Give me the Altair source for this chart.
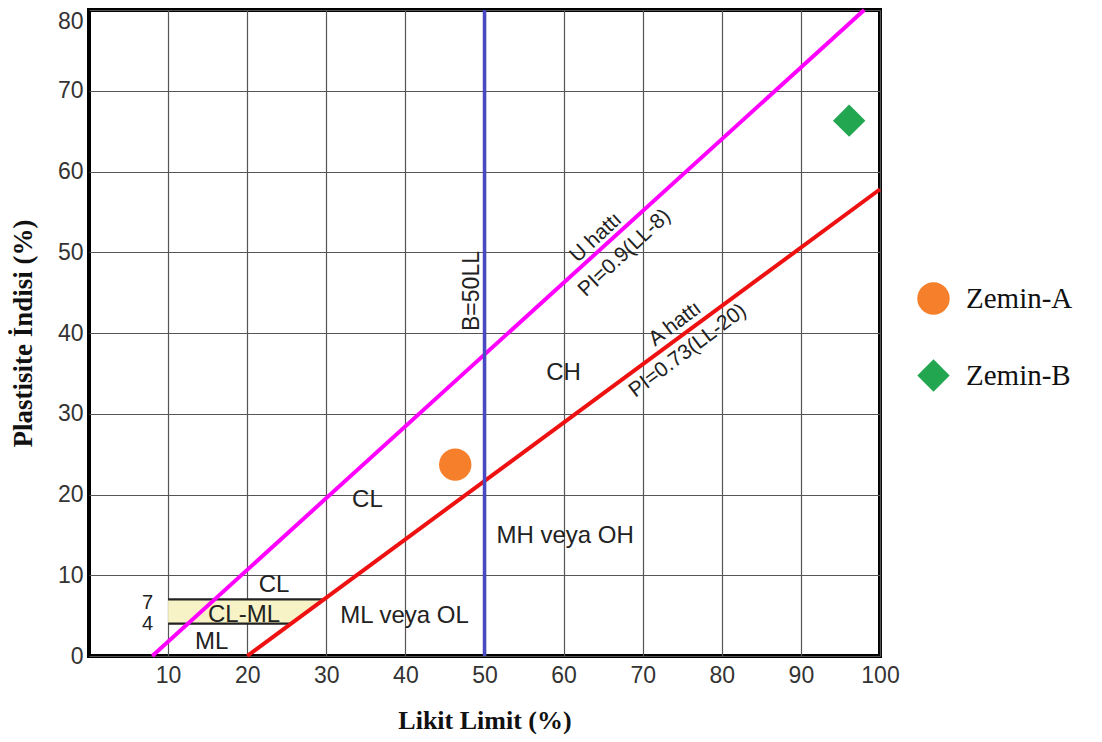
import altair as alt
import pandas as pd

# ---- data ----
u_line_ll = [8, 98]
u_line_pi = [0, 80]
a_line_ll = [20, 100]
a_line_pi = [0, 57.8]
b_line_ll = [50, 50]
b_line_pi = [0, 80]

zone_pi = [4, 7]
zone_ll_from = [10, 10]
zone_ll_to = [25.6, 29.8]

soil_names = ["Zemin-A", "Zemin-B"]
soil_ll = [46.3, 96.1]
soil_pi = [23.7, 66.3]
soil_colors = ["#F57F2A", "#22A650"]
soil_shapes = ["circle", "diamond"]

label_text = ["CL", "CL", "CL-ML", "ML", "ML veya OL", "MH veya OH", "CH"]
label_ll = [35.2, 23.4, 19.6, 15.5, 39.9, 60.2, 60.0]
label_pi = [19.3, 8.8, 5.1, 1.7, 4.9, 14.9, 35.0]

side_text = ["7", "4"]
side_ll = [7.4, 7.4]
side_pi = [6.6, 4.0]

u_text = ["U hattı", "PI=0.9(LL-8)"]
u_text_ll = [64.1, 67.7]
u_text_pi = [51.8, 49.9]

a_text = ["A hattı", "PI=0.73(LL-20)"]
a_text_ll = [74.1, 75.7]
a_text_pi = [41.1, 37.8]

b_text = ["B=50LL"]
b_text_ll = [48.4]
b_text_pi = [45.2]

x_ticks = [10, 20, 30, 40, 50, 60, 70, 80, 90, 100]
y_ticks = [0, 10, 20, 30, 40, 50, 60, 70, 80]

SANS = "Liberation Sans"
SERIF = "Liberation Serif"

xenc = alt.X(
    "ll:Q",
    scale=alt.Scale(domain=[0, 100], nice=False, zero=False),
    axis=alt.Axis(
        values=x_ticks, title="Likit Limit (%)", labelFont=SANS, labelFontSize=23,
        labelColor="#333", labelPadding=8, labelFlush=False,
        titleFont=SERIF, titleFontSize=26, titleFontWeight="bold", titleColor="#111",
        titleY=72, titleBaseline="alphabetic",
    ),
)
yenc = alt.Y(
    "pi:Q",
    scale=alt.Scale(domain=[0, 80], nice=False, zero=False),
    axis=alt.Axis(
        values=y_ticks, title="Plastisite İndisi (%)", labelFont=SANS, labelFontSize=23,
        labelColor="#333", labelPadding=6, labelFlush=False,
        labelBaseline={"condition": {"test": "datum.value == 80", "value": "top"}, "value": "middle"},
        titleFont=SERIF, titleFontSize=27, titleFontWeight="bold", titleColor="#111",
        titleX=-66, titleBaseline="middle",
    ),
)

def df(ll, pi, **extra):
    d = {"ll": ll, "pi": pi}
    d.update(extra)
    return pd.DataFrame(d)

zone_df = pd.DataFrame({"pi": zone_pi, "ll": zone_ll_from, "ll2": zone_ll_to})

zone = alt.Chart(zone_df).mark_area(
    orient="horizontal", color="#F8F3C6"
).encode(y=yenc, x=xenc, x2="ll2:Q")

zone_lines = alt.Chart(zone_df).mark_rule(
    color="#222", strokeWidth=2.2
).encode(y=yenc, x=xenc, x2="ll2:Q")

u_line = alt.Chart(df(u_line_ll, u_line_pi)).mark_line(color="#FF00FF", strokeWidth=4).encode(x=xenc, y=yenc)
a_line = alt.Chart(df(a_line_ll, a_line_pi)).mark_line(color="#EE1111", strokeWidth=4).encode(x=xenc, y=yenc)
b_line = alt.Chart(df(b_line_ll, b_line_pi)).mark_line(color="#4949C4", strokeWidth=3.5).encode(x=xenc, y=yenc)

labels = alt.Chart(df(label_ll, label_pi, t=label_text)).mark_text(
    font=SANS, fontSize=24, color="#222"
).encode(x=xenc, y=yenc, text="t:N")

side_labels = alt.Chart(df(side_ll, side_pi, t=side_text)).mark_text(
    font=SANS, fontSize=20, color="#222"
).encode(x=xenc, y=yenc, text="t:N")

u_labels = alt.Chart(df(u_text_ll, u_text_pi, t=u_text)).mark_text(
    font=SANS, fontSize=21, color="#222", angle=317
).encode(x=xenc, y=yenc, text="t:N")

a_labels = alt.Chart(df(a_text_ll, a_text_pi, t=a_text)).mark_text(
    font=SANS, fontSize=21, color="#222", angle=323
).encode(x=xenc, y=yenc, text="t:N")

b_labels = alt.Chart(df(b_text_ll, b_text_pi, t=b_text)).mark_text(
    font=SANS, fontSize=23, color="#222", angle=270
).encode(x=xenc, y=yenc, text="t:N")

points = alt.Chart(df(soil_ll, soil_pi, name=soil_names)).mark_point(
    filled=True, opacity=1, size=1050
).encode(
    x=xenc, y=yenc,
    color=alt.Color("name:N", scale=alt.Scale(domain=soil_names, range=soil_colors),
                    legend=alt.Legend(
                        title=None, orient="none", legendX=828, legendY=272,
                        labelFont=SERIF, labelFontSize=29, labelColor="#111",
                        symbolSize=1050, symbolOpacity=1, rowPadding=44, labelOffset=16,
                        padding=0, symbolStrokeWidth=0,
                    )),
    shape=alt.Shape("name:N", scale=alt.Scale(domain=soil_names, range=soil_shapes)),
)

chart = alt.layer(
    zone, zone_lines, u_line, a_line, b_line, labels, side_labels,
    u_labels, a_labels, b_labels, points
).properties(
    width=791, height=646,
    autosize=alt.AutoSizeParams(type="none"),
    padding={"left": 81, "top": 2, "right": 214, "bottom": 78},
).configure_view(
    stroke="black", strokeWidth=4
).configure_axis(
    domain=False, ticks=False, grid=True, gridColor="#555", gridWidth=1.2, gridOpacity=1
)

chart.save("out.html", embed_options={"renderer": "svg", "actions": False})
